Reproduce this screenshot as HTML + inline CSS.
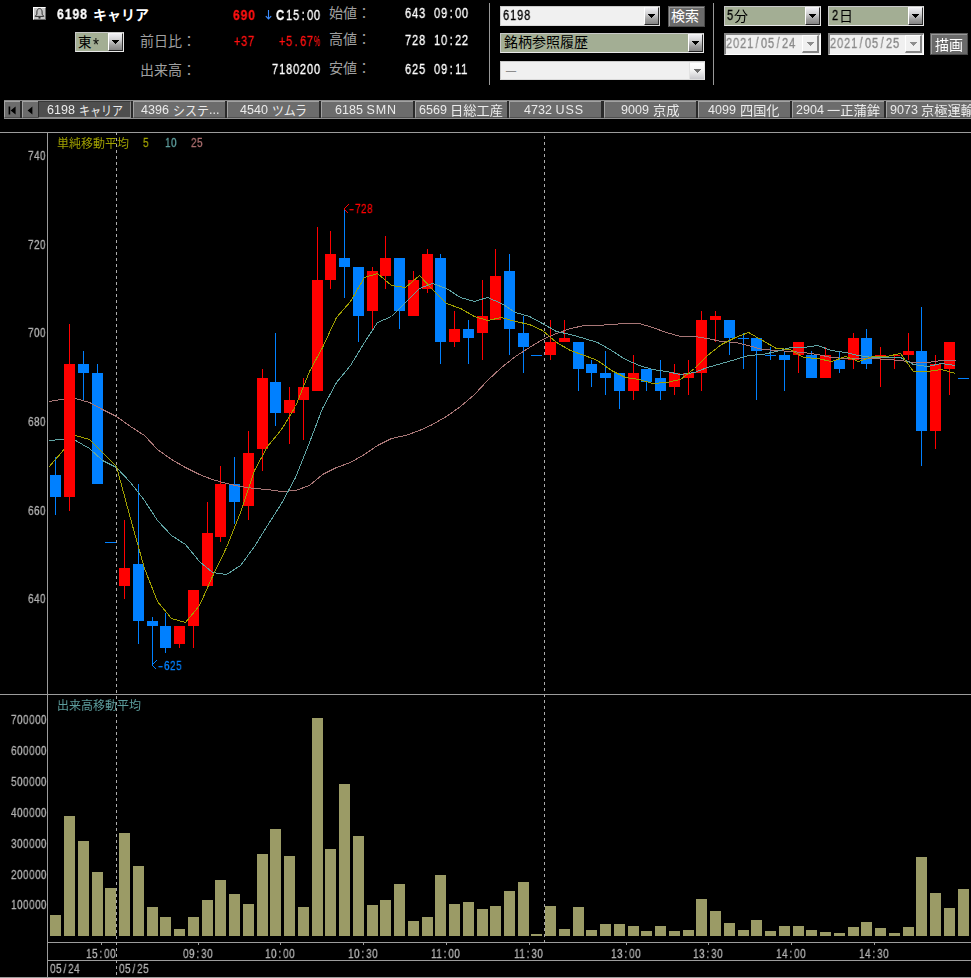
<!DOCTYPE html>
<html lang="ja"><head><meta charset="utf-8"><title>6198 キャリア 5分足チャート</title>
<style>
html,body{margin:0;padding:0;background:#000;}
html{width:971px;height:978px;overflow:hidden;}
body{width:971px;height:978px;position:relative;overflow:hidden;font-family:"Liberation Sans",sans-serif;}
.jp{position:absolute;overflow:visible;}
.jp text{font-family:"Liberation Sans","Noto Sans CJK JP",sans-serif;}
.mono{position:absolute;font-family:"Liberation Sans",sans-serif;line-height:1;white-space:pre;transform-origin:0 0;display:block;}
.mono i{display:inline-block;width:.5562em;text-align:center;font-style:normal;letter-spacing:0;margin-right:var(--ls,0);}
.mono i.pc{text-align:left;}
.mono i.pc b{display:inline-block;font-weight:inherit;transform:scaleX(.6);transform-origin:0 50%;}
.mono i.hy b{display:inline-block;font-weight:inherit;transform:scaleX(1.5);}
.mono,.tl,.sans{will-change:transform;}
.mono{-webkit-text-stroke:.3px currentColor;}
.sans{position:absolute;font-family:"Liberation Sans",sans-serif;line-height:1;white-space:pre;display:block;}
.ddb{position:absolute;box-sizing:border-box;border:1px solid;border-color:#f6f6f6 #2e2e2e #222 #fff;background:linear-gradient(180deg,#eeeef2 0%,#d2d2d4 35%,#a0a0a0 70%,#848484 100%);}
.ddb i{position:absolute;left:6px;top:9px;width:1px;height:1px;background:currentColor;color:#000;box-shadow:-1px -1px,0 -1px,1px -1px,-2px -2px,-1px -2px,0 -2px,1px -2px,2px -2px,-3px -3px,-2px -3px,-1px -3px,0 -3px,1px -3px,2px -3px,3px -3px;}
.ddb.dis{background:linear-gradient(180deg,#fff 0%,#f4f4f4 45%,#c8c8cc 100%);border-color:#ededed #e6e6e6 #dcdcdc #e2e2e2;}
.ddb.dis i{color:#6e6e6e;left:7px;top:9px;}
.ddb.dt{background:#f0f0f0;border-width:1px 2px 2px 1px;border-color:#fff #868686 #868686 #fff;}
.ddb.dt i{color:#8e8e8e;left:7px;top:9px;}
.btn{position:absolute;box-sizing:border-box;background:#6a6a6a;border:1px solid;border-color:#5c5c5c #4a4a4a #4a4a4a #5c5c5c;box-shadow:inset 1px 1px 0 #989898;}
.tab{position:absolute;top:101px;height:17px;box-sizing:border-box;background:#6c6c6c;border-style:solid;border-width:1px 0 1px 1px;border-color:#a2a2a2 #2a2a2a #505050 #a2a2a2;overflow:hidden;}
.tab.sel{background:#4e4e4e;border-width:1px;border-color:#383838 #8c8c8c #8c8c8c #2c2c2c;}
.tl{position:absolute;top:2px;font:12.5px/13px "Liberation Sans",sans-serif;letter-spacing:.05px;color:#ececec;white-space:pre;}
</style></head><body>

<div class="" style="position:absolute;left:33px;top:7px;width:13px;height:13px;box-sizing:border-box;background:#c6c6c6;border:1px solid;border-color:#fff #6a6a6a #6a6a6a #fff;"><svg width="11" height="11" viewBox="0 0 11 11" style="position:absolute;left:0;top:0"><path d="M5.5 0.6C3.7 0.6 2.9 2.2 2.9 4V6.2L1.2 8.4H9.8L8.1 6.2V4C8.1 2.2 7.3 0.6 5.5 0.6Z" fill="none" stroke="#303030" stroke-width="1"/><path d="M4.5 9h2v1.6h-2z" fill="#303030"/></svg></div>
<span class="mono " style="left:56.76px;top:6.93px;font-size:14.18px;letter-spacing:1.08px;--ls:1.08px;transform:scaleX(0.8589);color:#fff;font-weight:bold;">6198</span>
<svg class="jp" style="left:92.5px;top:5px" width="58" height="20" viewBox="0 -15 58 20"><text x="0" y="0" font-size="14" font-weight="bold" fill="#fff" textLength="56" lengthAdjust="spacingAndGlyphs">キャリア</text></svg>
<div class="" style="position:absolute;left:75px;top:32px;width:49px;height:20px;box-sizing:border-box;background:#a3ae94;border:1px solid;border-color:#c8c8c8 #e8e8e8 #e8e8e8 #c8c8c8;"></div>
<div class="ddb" style="left:108px;top:33px;width:15px;height:18px"><i></i></div>
<svg class="jp" style="left:77.5px;top:31.5px" width="16" height="19.5" viewBox="0 -14.5 16 19.5"><text x="0" y="0" font-size="13.5" fill="#000">東</text></svg>
<span class="sans" style="left:92.7px;top:34.9px;font-size:19px;color:#000;transform:scaleX(.8);transform-origin:0 0">*</span>
<svg class="jp" style="left:139.5px;top:31px" width="58" height="20" viewBox="0 -15 58 20"><text x="0" y="0" font-size="14" fill="#a0a0a0">前日比：</text></svg>
<svg class="jp" style="left:139.5px;top:59.5px" width="58" height="20" viewBox="0 -15 58 20"><text x="0" y="0" font-size="14" fill="#a0a0a0">出来高：</text></svg>
<span class="mono " style="left:232.76px;top:7.93px;font-size:14.18px;letter-spacing:1.08px;--ls:1.08px;transform:scaleX(0.8477);color:#ff1010;font-weight:bold;">690</span>
<svg class="jp" style="left:264px;top:9px" width="9" height="12" viewBox="0 0 9 12"><path d="M4.5 1V10M1.8 7.2L4.5 10L7.2 7.2" fill="none" stroke="#3c8cff" stroke-width="1.1"/></svg>
<span class="mono " style="left:276.43px;top:7.93px;font-size:14.18px;letter-spacing:1.08px;--ls:1.08px;transform:scaleX(0.8031);color:#fff;font-weight:bold;"><i>C</i></span>
<span class="mono " style="left:286.42px;top:7.93px;font-size:14.18px;letter-spacing:1.08px;--ls:1.08px;transform:scaleX(0.7808);color:#fff;">15<i>:</i>00</span>
<span class="mono " style="left:234.42px;top:33.93px;font-size:14.18px;letter-spacing:1.08px;--ls:1.08px;transform:scaleX(0.7808);color:#ff1010;"><i>+</i>37</span>
<span class="mono " style="left:279.42px;top:33.93px;font-size:14.18px;letter-spacing:1.08px;--ls:1.08px;transform:scaleX(0.7808);color:#ff1010;"><i>+</i>5<i>.</i>67<i class="pc"><b>%</b></i></span>
<span class="mono " style="left:272.42px;top:61.93px;font-size:14.18px;letter-spacing:1.08px;--ls:1.08px;transform:scaleX(0.7808);color:#fff;">7180200</span>
<svg class="jp" style="left:328.5px;top:3.2px" width="44" height="20" viewBox="0 -15 44 20"><text x="0" y="0" font-size="14" fill="#a0a0a0">始値：</text></svg>
<span class="mono " style="left:405.42px;top:6.13px;font-size:14.18px;letter-spacing:1.08px;--ls:1.08px;transform:scaleX(0.7808);color:#fff;">643</span>
<span class="mono " style="left:434.42px;top:6.13px;font-size:14.18px;letter-spacing:1.08px;--ls:1.08px;transform:scaleX(0.7808);color:#fff;">09<i>:</i>00</span>
<svg class="jp" style="left:328.5px;top:29.2px" width="44" height="20" viewBox="0 -15 44 20"><text x="0" y="0" font-size="14" fill="#a0a0a0">高値：</text></svg>
<span class="mono " style="left:405.42px;top:32.53px;font-size:14.18px;letter-spacing:1.08px;--ls:1.08px;transform:scaleX(0.7808);color:#fff;">728</span>
<span class="mono " style="left:434.42px;top:32.53px;font-size:14.18px;letter-spacing:1.08px;--ls:1.08px;transform:scaleX(0.7808);color:#fff;">10<i>:</i>22</span>
<svg class="jp" style="left:328.5px;top:57.9px" width="44" height="20" viewBox="0 -15 44 20"><text x="0" y="0" font-size="14" fill="#a0a0a0">安値：</text></svg>
<span class="mono " style="left:405.42px;top:61.53px;font-size:14.18px;letter-spacing:1.08px;--ls:1.08px;transform:scaleX(0.7808);color:#fff;">625</span>
<span class="mono " style="left:434.42px;top:61.53px;font-size:14.18px;letter-spacing:1.08px;--ls:1.08px;transform:scaleX(0.7808);color:#fff;">09<i>:</i>11</span>
<div class="" style="position:absolute;left:489px;top:3px;width:1px;height:82px;background:#989898"></div>
<div class="" style="position:absolute;left:713px;top:3px;width:1px;height:82px;background:#989898"></div>
<div class="" style="position:absolute;left:500px;top:6px;width:160px;height:20px;box-sizing:border-box;background:#f0f0f0;border:1px solid;border-color:#cacaca #dadada #dadada #cacaca;"></div>
<div class="ddb" style="left:644px;top:7px;width:15px;height:18px"><i></i></div>
<span class="mono " style="left:503.42px;top:7.93px;font-size:14.18px;letter-spacing:1.08px;--ls:1.08px;transform:scaleX(0.7808);color:#000;">6198</span>
<div class="btn" style="position:absolute;left:668px;top:6px;width:37px;height:21px;"></div>
<svg class="jp" style="left:671px;top:6px" width="30" height="20" viewBox="0 -15 30 20"><text x="0" y="0" font-size="14" fill="#fff">検索</text></svg>
<div class="" style="position:absolute;left:500px;top:33px;width:204px;height:20px;box-sizing:border-box;background:#a3ae94;border:1px solid;border-color:#c8c8c8 #e8e8e8 #e8e8e8 #c8c8c8;"></div>
<div class="ddb" style="left:688px;top:34px;width:15px;height:18px"><i></i></div>
<svg class="jp" style="left:503.5px;top:32px" width="86" height="20" viewBox="0 -15 86 20"><text x="0" y="0" font-size="14" fill="#000">銘柄参照履歴</text></svg>
<div class="" style="position:absolute;left:500px;top:61px;width:205px;height:19px;box-sizing:border-box;background:#f0f0f0;border:1px solid;border-color:#cacaca #dadada #dadada #cacaca;"></div>
<div class="ddb dis" style="left:689px;top:62px;width:16px;height:18px"><i></i></div>
<svg class="jp" style="left:504px;top:61px" width="16" height="20" viewBox="0 -15 16 20"><text x="0" y="0" font-size="14" fill="#8c8c8c">－</text></svg>
<div class="" style="position:absolute;left:724px;top:6px;width:97px;height:20px;box-sizing:border-box;background:#a3ae94;border:1px solid;border-color:#c8c8c8 #e8e8e8 #e8e8e8 #c8c8c8;"></div>
<div class="ddb" style="left:805px;top:7px;width:15px;height:18px"><i></i></div>
<span class="mono " style="left:727.42px;top:7.93px;font-size:14.18px;letter-spacing:1.08px;--ls:1.08px;transform:scaleX(0.7808);color:#000;">5</span>
<svg class="jp" style="left:734px;top:5.5px" width="16" height="20" viewBox="0 -15 16 20"><text x="0" y="0" font-size="14" fill="#000">分</text></svg>
<div class="" style="position:absolute;left:828px;top:6px;width:96px;height:20px;box-sizing:border-box;background:#a3ae94;border:1px solid;border-color:#c8c8c8 #e8e8e8 #e8e8e8 #c8c8c8;"></div>
<div class="ddb" style="left:908px;top:7px;width:15px;height:18px"><i></i></div>
<span class="mono " style="left:831.92px;top:7.93px;font-size:14.18px;letter-spacing:1.08px;--ls:1.08px;transform:scaleX(0.7808);color:#000;">2</span>
<svg class="jp" style="left:838.5px;top:5.5px" width="16" height="20" viewBox="0 -15 16 20"><text x="0" y="0" font-size="14" fill="#000">日</text></svg>
<div class="" style="position:absolute;left:724px;top:33px;width:97px;height:22px;box-sizing:border-box;background:#f0f0f0;border-style:solid;border-width:2px 1px 1px 2px;border-color:#848484 #fff #fff #848484;"></div>
<div class="ddb dt" style="left:802px;top:35px;width:17px;height:18px"><i></i></div>
<span class="mono " style="left:726.42px;top:35.93px;font-size:14.18px;letter-spacing:1.08px;--ls:1.08px;transform:scaleX(0.7808);color:#8a8a8a;">2021<i>/</i>05<i>/</i>24</span>
<div class="" style="position:absolute;left:828px;top:33px;width:96px;height:22px;box-sizing:border-box;background:#f0f0f0;border-style:solid;border-width:2px 1px 1px 2px;border-color:#848484 #fff #fff #848484;"></div>
<div class="ddb dt" style="left:905px;top:35px;width:17px;height:18px"><i></i></div>
<span class="mono " style="left:830.42px;top:35.93px;font-size:14.18px;letter-spacing:1.08px;--ls:1.08px;transform:scaleX(0.7808);color:#8a8a8a;">2021<i>/</i>05<i>/</i>25</span>
<div class="btn" style="position:absolute;left:930px;top:33px;width:38px;height:22px;"></div>
<svg class="jp" style="left:935px;top:34.5px" width="30" height="20" viewBox="0 -15 30 20"><text x="0" y="0" font-size="14" fill="#fff">描画</text></svg>
<div class="" style="position:absolute;left:4px;top:100px;width:967px;height:19px;background:#2a2a2a;border-top:1px solid #8a8a8a;border-bottom:1px solid #8e8e8e;box-sizing:border-box;"></div>
<div class="tab" style="left:4px;width:16px"><svg width="14" height="17" viewBox="0 0 14 17" style="position:absolute;left:0;top:0"><path d="M3.6 4.5h1.6v8H3.6zM10.6 4.5v8L5.6 8.5z" fill="#000"/></svg></div>
<div class="tab" style="left:22px;width:16px"><svg width="14" height="17" viewBox="0 0 14 17" style="position:absolute;left:0;top:0"><path d="M9.4 4.5v8L4.6 8.5z" fill="#000"/></svg></div>
<div class="tab sel" style="left:38px;width:93px">
<span class="tl" style="left:8.0px">6198 </span>
<svg class="jp" style="left:39.7px;top:0px" width="45" height="17" viewBox="0 -13 45 17"><text x="0" y="0" font-size="13" fill="#ececec" textLength="44" lengthAdjust="spacingAndGlyphs">キャリア</text></svg>
</div>
<div class="tab" style="left:133px;width:92px">
<span class="tl" style="left:6.8px">4396 </span>
<svg class="jp" style="left:38.5px;top:0px" width="37" height="17" viewBox="0 -13 37 17"><text x="0" y="0" font-size="13" fill="#ececec" textLength="36" lengthAdjust="spacingAndGlyphs">システ</text></svg>
<span class="tl" style="left:74.7px">...</span>
</div>
<div class="tab" style="left:227px;width:92px">
<span class="tl" style="left:11.9px">4540 </span>
<svg class="jp" style="left:43.6px;top:0px" width="36" height="17" viewBox="0 -13 36 17"><text x="0" y="0" font-size="13" fill="#ececec" textLength="35" lengthAdjust="spacingAndGlyphs">ツムラ</text></svg>
</div>
<div class="tab" style="left:321px;width:92px">
<span class="tl" style="left:12.6px">6185 <span style="letter-spacing:.9px">SMN</span></span>
</div>
<div class="tab" style="left:415px;width:92px">
<span class="tl" style="left:2.5px">6569 </span>
<svg class="jp" style="left:34.2px;top:0px" width="55" height="17" viewBox="0 -13 55 17"><text x="0" y="0" font-size="13" fill="#ececec" textLength="53" lengthAdjust="spacingAndGlyphs">日総工産</text></svg>
</div>
<div class="tab" style="left:509px;width:92px">
<span class="tl" style="left:13.9px">4732 <span style="letter-spacing:.9px">USS</span></span>
</div>
<div class="tab" style="left:604px;width:92px">
<span class="tl" style="left:15.9px">9009 </span>
<svg class="jp" style="left:47.6px;top:0px" width="28" height="17" viewBox="0 -13 28 17"><text x="0" y="0" font-size="13" fill="#ececec" textLength="26.5" lengthAdjust="spacingAndGlyphs">京成</text></svg>
</div>
<div class="tab" style="left:698px;width:92px">
<span class="tl" style="left:9.2px">4099 </span>
<svg class="jp" style="left:40.9px;top:0px" width="41" height="17" viewBox="0 -13 41 17"><text x="0" y="0" font-size="13" fill="#ececec" textLength="39.5" lengthAdjust="spacingAndGlyphs">四国化</text></svg>
</div>
<div class="tab" style="left:792px;width:92px">
<span class="tl" style="left:2.5px">2904 </span>
<svg class="jp" style="left:34.2px;top:0px" width="55" height="17" viewBox="0 -13 55 17"><text x="0" y="0" font-size="13" fill="#ececec" textLength="53" lengthAdjust="spacingAndGlyphs">一正蒲鉾</text></svg>
</div>
<div class="tab" style="left:886px;width:85px">
<span class="tl" style="left:2.5px">9073 </span>
<svg class="jp" style="left:34.2px;top:0px" width="55" height="17" viewBox="0 -13 55 17"><text x="0" y="0" font-size="13" fill="#ececec" textLength="53" lengthAdjust="spacingAndGlyphs">京極運輸</text></svg>
</div>
<svg style="position:absolute;left:0;top:0" width="971" height="978" viewBox="0 0 971 978" shape-rendering="crispEdges">
<g fill="#9c9c9c">
<rect x="0" y="132" width="971" height="1"/>
<rect x="47" y="133" width="1" height="845"/>
<rect x="0" y="694" width="971" height="1"/>
<rect x="48" y="942" width="923" height="1"/>
<rect x="48" y="960" width="923" height="1"/>
<rect x="0" y="977" width="971" height="1"/>
<rect x="101" y="943" width="1" height="2"/>
<rect x="198" y="943" width="1" height="2"/>
<rect x="280" y="943" width="1" height="2"/>
<rect x="363" y="943" width="1" height="2"/>
<rect x="446" y="943" width="1" height="2"/>
<rect x="529" y="943" width="1" height="2"/>
<rect x="626" y="943" width="1" height="2"/>
<rect x="708" y="943" width="1" height="2"/>
<rect x="791" y="943" width="1" height="2"/>
<rect x="874" y="943" width="1" height="2"/>
</g>
<g stroke="#acacac" stroke-width="1" stroke-dasharray="3 3">
<line x1="116.5" y1="132" x2="116.5" y2="978"/><line x1="544.5" y1="132" x2="544.5" y2="943" stroke-dashoffset="2"/>
</g>
<g fill="#9b9b66">
<rect x="50" y="915" width="11" height="21"/>
<rect x="64" y="816" width="11" height="120"/>
<rect x="78" y="841" width="11" height="95"/>
<rect x="92" y="872" width="11" height="64"/>
<rect x="105" y="888" width="11" height="48"/>
<rect x="119" y="833" width="11" height="103"/>
<rect x="133" y="866" width="11" height="70"/>
<rect x="147" y="907" width="11" height="29"/>
<rect x="160" y="917" width="11" height="19"/>
<rect x="174" y="929" width="11" height="7"/>
<rect x="188" y="917" width="11" height="19"/>
<rect x="202" y="900" width="11" height="36"/>
<rect x="215" y="880" width="11" height="56"/>
<rect x="229" y="894" width="11" height="42"/>
<rect x="243" y="904" width="11" height="32"/>
<rect x="257" y="854" width="11" height="82"/>
<rect x="270" y="829" width="11" height="107"/>
<rect x="284" y="856" width="11" height="80"/>
<rect x="298" y="907" width="11" height="29"/>
<rect x="312" y="718" width="11" height="218"/>
<rect x="325" y="849" width="11" height="87"/>
<rect x="339" y="784" width="11" height="152"/>
<rect x="353" y="836" width="11" height="100"/>
<rect x="367" y="905" width="11" height="31"/>
<rect x="380" y="900" width="11" height="36"/>
<rect x="394" y="884" width="11" height="52"/>
<rect x="408" y="921" width="11" height="15"/>
<rect x="422" y="917" width="11" height="19"/>
<rect x="435" y="875" width="11" height="61"/>
<rect x="449" y="904" width="11" height="32"/>
<rect x="463" y="902" width="11" height="34"/>
<rect x="477" y="909" width="11" height="27"/>
<rect x="490" y="906" width="11" height="30"/>
<rect x="504" y="891" width="11" height="45"/>
<rect x="518" y="882" width="11" height="54"/>
<rect x="531" y="934" width="11" height="2"/>
<rect x="545" y="906" width="11" height="30"/>
<rect x="559" y="929" width="11" height="7"/>
<rect x="573" y="907" width="11" height="29"/>
<rect x="586" y="930" width="11" height="6"/>
<rect x="600" y="924" width="11" height="12"/>
<rect x="614" y="924" width="11" height="12"/>
<rect x="628" y="926" width="11" height="10"/>
<rect x="641" y="931" width="11" height="5"/>
<rect x="655" y="926" width="11" height="10"/>
<rect x="669" y="931" width="11" height="5"/>
<rect x="683" y="930" width="11" height="6"/>
<rect x="696" y="899" width="11" height="37"/>
<rect x="710" y="911" width="11" height="25"/>
<rect x="724" y="923" width="11" height="13"/>
<rect x="738" y="930" width="11" height="6"/>
<rect x="751" y="920" width="11" height="16"/>
<rect x="765" y="931" width="11" height="5"/>
<rect x="779" y="926" width="11" height="10"/>
<rect x="793" y="926" width="11" height="10"/>
<rect x="806" y="930" width="11" height="6"/>
<rect x="820" y="932" width="11" height="4"/>
<rect x="834" y="933" width="11" height="3"/>
<rect x="848" y="927" width="11" height="9"/>
<rect x="861" y="922" width="11" height="14"/>
<rect x="875" y="928" width="11" height="8"/>
<rect x="889" y="933" width="11" height="3"/>
<rect x="903" y="927" width="11" height="9"/>
<rect x="916" y="857" width="11" height="79"/>
<rect x="930" y="893" width="11" height="43"/>
<rect x="944" y="908" width="11" height="28"/>
<rect x="958" y="889" width="11" height="47"/>
</g>
<rect x="55" y="457" width="1" height="58" fill="#0080ff"/><rect x="50" y="475" width="11" height="22" fill="#0080ff"/>
<rect x="83" y="351" width="1" height="49" fill="#0080ff"/><rect x="78" y="364" width="11" height="9" fill="#0080ff"/>
<rect x="97" y="364" width="1" height="120" fill="#0080ff"/><rect x="92" y="373" width="11" height="111" fill="#0080ff"/>
<rect x="105" y="542" width="11" height="1" fill="#0080ff"/>
<rect x="124" y="520" width="1" height="79" fill="#ff0000"/><rect x="119" y="568" width="11" height="18" fill="#ff0000"/>
<rect x="138" y="484" width="1" height="160" fill="#0080ff"/><rect x="133" y="564" width="11" height="57" fill="#0080ff"/>
<rect x="152" y="617" width="1" height="49" fill="#0080ff"/><rect x="147" y="621" width="11" height="5" fill="#0080ff"/>
<rect x="165" y="613" width="1" height="40" fill="#0080ff"/><rect x="160" y="626" width="11" height="22" fill="#0080ff"/>
<rect x="179" y="626" width="1" height="22" fill="#ff0000"/><rect x="174" y="626" width="11" height="18" fill="#ff0000"/>
<rect x="193" y="590" width="1" height="58" fill="#ff0000"/><rect x="188" y="590" width="11" height="36" fill="#ff0000"/>
<rect x="207" y="502" width="1" height="84" fill="#ff0000"/><rect x="202" y="533" width="11" height="53" fill="#ff0000"/>
<rect x="220" y="466" width="1" height="76" fill="#ff0000"/><rect x="215" y="484" width="11" height="53" fill="#ff0000"/>
<rect x="234" y="457" width="1" height="67" fill="#0080ff"/><rect x="229" y="484" width="11" height="18" fill="#0080ff"/>
<rect x="248" y="431" width="1" height="89" fill="#ff0000"/><rect x="243" y="453" width="11" height="53" fill="#ff0000"/>
<rect x="262" y="369" width="1" height="102" fill="#ff0000"/><rect x="257" y="378" width="11" height="71" fill="#ff0000"/>
<rect x="275" y="333" width="1" height="93" fill="#0080ff"/><rect x="270" y="382" width="11" height="31" fill="#0080ff"/>
<rect x="289" y="387" width="1" height="57" fill="#ff0000"/><rect x="284" y="400" width="11" height="13" fill="#ff0000"/>
<rect x="303" y="378" width="1" height="62" fill="#ff0000"/><rect x="298" y="387" width="11" height="13" fill="#ff0000"/>
<rect x="317" y="227" width="1" height="164" fill="#ff0000"/><rect x="312" y="280" width="11" height="111" fill="#ff0000"/>
<rect x="330" y="231" width="1" height="58" fill="#ff0000"/><rect x="325" y="254" width="11" height="26" fill="#ff0000"/>
<rect x="344" y="209" width="1" height="89" fill="#0080ff"/><rect x="339" y="258" width="11" height="9" fill="#0080ff"/>
<rect x="358" y="267" width="1" height="75" fill="#0080ff"/><rect x="353" y="267" width="11" height="49" fill="#0080ff"/>
<rect x="372" y="267" width="1" height="62" fill="#ff0000"/><rect x="367" y="271" width="11" height="40" fill="#ff0000"/>
<rect x="385" y="236" width="1" height="53" fill="#ff0000"/><rect x="380" y="258" width="11" height="18" fill="#ff0000"/>
<rect x="399" y="258" width="1" height="71" fill="#0080ff"/><rect x="394" y="258" width="11" height="53" fill="#0080ff"/>
<rect x="413" y="271" width="1" height="45" fill="#ff0000"/><rect x="408" y="280" width="11" height="36" fill="#ff0000"/>
<rect x="427" y="249" width="1" height="44" fill="#ff0000"/><rect x="422" y="254" width="11" height="35" fill="#ff0000"/>
<rect x="440" y="254" width="1" height="110" fill="#0080ff"/><rect x="435" y="258" width="11" height="84" fill="#0080ff"/>
<rect x="454" y="311" width="1" height="36" fill="#ff0000"/><rect x="449" y="329" width="11" height="13" fill="#ff0000"/>
<rect x="468" y="320" width="1" height="44" fill="#0080ff"/><rect x="463" y="329" width="11" height="9" fill="#0080ff"/>
<rect x="482" y="280" width="1" height="80" fill="#ff0000"/><rect x="477" y="316" width="11" height="17" fill="#ff0000"/>
<rect x="495" y="249" width="1" height="71" fill="#ff0000"/><rect x="490" y="276" width="11" height="44" fill="#ff0000"/>
<rect x="509" y="254" width="1" height="101" fill="#0080ff"/><rect x="504" y="271" width="11" height="58" fill="#0080ff"/>
<rect x="523" y="316" width="1" height="57" fill="#0080ff"/><rect x="518" y="333" width="11" height="14" fill="#0080ff"/>
<rect x="531" y="355" width="11" height="1" fill="#0080ff"/>
<rect x="550" y="320" width="1" height="40" fill="#ff0000"/><rect x="545" y="342" width="11" height="13" fill="#ff0000"/>
<rect x="564" y="320" width="1" height="22" fill="#ff0000"/><rect x="559" y="338" width="11" height="4" fill="#ff0000"/>
<rect x="578" y="342" width="1" height="49" fill="#0080ff"/><rect x="573" y="342" width="11" height="27" fill="#0080ff"/>
<rect x="591" y="360" width="1" height="27" fill="#0080ff"/><rect x="586" y="364" width="11" height="9" fill="#0080ff"/>
<rect x="605" y="351" width="1" height="44" fill="#0080ff"/><rect x="600" y="373" width="11" height="5" fill="#0080ff"/>
<rect x="619" y="373" width="1" height="36" fill="#0080ff"/><rect x="614" y="373" width="11" height="18" fill="#0080ff"/>
<rect x="633" y="355" width="1" height="45" fill="#ff0000"/><rect x="628" y="373" width="11" height="18" fill="#ff0000"/>
<rect x="646" y="369" width="1" height="22" fill="#0080ff"/><rect x="641" y="369" width="11" height="13" fill="#0080ff"/>
<rect x="660" y="360" width="1" height="40" fill="#0080ff"/><rect x="655" y="378" width="11" height="13" fill="#0080ff"/>
<rect x="674" y="364" width="1" height="31" fill="#ff0000"/><rect x="669" y="373" width="11" height="14" fill="#ff0000"/>
<rect x="688" y="360" width="1" height="35" fill="#ff0000"/><rect x="683" y="373" width="11" height="5" fill="#ff0000"/>
<rect x="701" y="311" width="1" height="80" fill="#ff0000"/><rect x="696" y="320" width="11" height="53" fill="#ff0000"/>
<rect x="715" y="311" width="1" height="31" fill="#ff0000"/><rect x="710" y="316" width="11" height="4" fill="#ff0000"/>
<rect x="729" y="320" width="1" height="35" fill="#0080ff"/><rect x="724" y="320" width="11" height="18" fill="#0080ff"/>
<rect x="743" y="333" width="1" height="36" fill="#0080ff"/><rect x="738" y="338" width="11" height="1" fill="#0080ff"/>
<rect x="756" y="338" width="1" height="62" fill="#0080ff"/><rect x="751" y="338" width="11" height="13" fill="#0080ff"/>
<rect x="770" y="347" width="1" height="13" fill="#0080ff"/><rect x="765" y="355" width="11" height="1" fill="#0080ff"/>
<rect x="784" y="351" width="1" height="40" fill="#0080ff"/><rect x="779" y="355" width="11" height="5" fill="#0080ff"/>
<rect x="798" y="342" width="1" height="31" fill="#ff0000"/><rect x="793" y="342" width="11" height="13" fill="#ff0000"/>
<rect x="811" y="351" width="1" height="27" fill="#0080ff"/><rect x="806" y="355" width="11" height="23" fill="#0080ff"/>
<rect x="825" y="347" width="1" height="31" fill="#ff0000"/><rect x="820" y="355" width="11" height="23" fill="#ff0000"/>
<rect x="839" y="351" width="1" height="22" fill="#0080ff"/><rect x="834" y="360" width="11" height="9" fill="#0080ff"/>
<rect x="853" y="333" width="1" height="36" fill="#ff0000"/><rect x="848" y="338" width="11" height="22" fill="#ff0000"/>
<rect x="866" y="329" width="1" height="40" fill="#0080ff"/><rect x="861" y="338" width="11" height="26" fill="#0080ff"/>
<rect x="880" y="347" width="1" height="40" fill="#ff0000"/><rect x="875" y="355" width="11" height="1" fill="#ff0000"/>
<rect x="894" y="355" width="1" height="14" fill="#ff0000"/><rect x="889" y="355" width="11" height="1" fill="#ff0000"/>
<rect x="908" y="333" width="1" height="27" fill="#ff0000"/><rect x="903" y="351" width="11" height="4" fill="#ff0000"/>
<rect x="921" y="307" width="1" height="159" fill="#0080ff"/><rect x="916" y="351" width="11" height="80" fill="#0080ff"/>
<rect x="935" y="355" width="1" height="94" fill="#ff0000"/><rect x="930" y="364" width="11" height="67" fill="#ff0000"/>
<rect x="949" y="342" width="1" height="53" fill="#ff0000"/><rect x="944" y="342" width="11" height="27" fill="#ff0000"/>
<rect x="958" y="378" width="11" height="1" fill="#0080ff"/>
<clipPath id="plot"><rect x="49" y="133" width="922" height="561"/></clipPath>
<polyline clip-path="url(#plot)" fill="none" stroke="#a87676" stroke-width="1" points="48.5,401.5 61.5,399.5 75.5,398.5 89.5,402.5 102.5,409.5 116.5,416.5 130.5,426.5 144.5,435.5 157.5,449.5 171.5,459.5 185.5,467.5 199.5,474.5 212.5,479.5 226.5,483.5 240.5,486.5 254.5,488.5 267.5,489.5 281.5,491.5 295.5,490.5 309.5,485.5 322.5,474.5 336.5,467.5 350.5,462.5 364.5,454.5 377.5,445.5 391.5,438.5 405.5,435.5 419.5,430.5 432.5,424.5 446.5,416.5 460.5,406.5 474.5,394.5 487.5,380.5 501.5,367.5 515.5,356.5 529.5,347.5 542.5,339.5 556.5,333.5 570.5,328.5 584.5,325.5 597.5,325.5 611.5,324.5 625.5,323.5 639.5,323.5 652.5,327.5 666.5,332.5 680.5,336.5 694.5,336.5 707.5,338.5 721.5,341.5 735.5,342.5 748.5,345.5 762.5,349.5 776.5,350.5 790.5,351.5 803.5,352.5 817.5,354.5 831.5,357.5 845.5,358.5 858.5,358.5 872.5,358.5 886.5,359.5 900.5,360.5 913.5,362.5 927.5,362.5 941.5,360.5 955.5,360.5"/>
<polyline clip-path="url(#plot)" fill="none" stroke="#60a4a4" stroke-width="1" points="48.5,440.5 61.5,439.5 75.5,440.5 89.5,448.5 102.5,460.5 116.5,467.5 130.5,482.5 144.5,500.5 157.5,520.5 171.5,535.5 185.5,544.5 199.5,561.5 212.5,572.5 226.5,574.5 240.5,565.5 254.5,546.5 267.5,525.5 281.5,503.5 295.5,477.5 309.5,442.5 322.5,408.5 336.5,382.5 350.5,365.5 364.5,342.5 377.5,322.5 391.5,316.5 405.5,302.5 419.5,288.5 432.5,283.5 446.5,288.5 460.5,297.5 474.5,301.5 487.5,297.5 501.5,303.5 515.5,312.5 529.5,316.5 542.5,323.5 556.5,331.5 570.5,334.5 584.5,338.5 597.5,342.5 611.5,350.5 625.5,359.5 639.5,365.5 652.5,369.5 666.5,371.5 680.5,374.5 694.5,372.5 707.5,367.5 721.5,363.5 735.5,359.5 748.5,355.5 762.5,354.5 776.5,351.5 790.5,347.5 803.5,347.5 817.5,345.5 831.5,350.5 845.5,352.5 858.5,355.5 872.5,357.5 886.5,357.5 900.5,357.5 913.5,364.5 927.5,366.5 941.5,363.5 955.5,365.5"/>
<polyline clip-path="url(#plot)" fill="none" stroke="#a0a000" stroke-width="1" points="48.5,467.5 61.5,452.5 75.5,435.5 89.5,439.5 102.5,452.5 116.5,466.5 130.5,518.5 144.5,568.5 157.5,601.5 171.5,618.5 185.5,622.5 199.5,605.5 212.5,576.5 226.5,547.5 240.5,512.5 254.5,470.5 267.5,446.5 281.5,429.5 295.5,406.5 309.5,371.5 322.5,347.5 336.5,317.5 350.5,301.5 364.5,277.5 377.5,273.5 391.5,285.5 405.5,287.5 419.5,275.5 432.5,289.5 446.5,303.5 460.5,308.5 474.5,316.5 487.5,320.5 501.5,317.5 515.5,321.5 529.5,324.5 542.5,330.5 556.5,342.5 570.5,350.5 584.5,355.5 597.5,360.5 611.5,370.5 625.5,377.5 639.5,379.5 652.5,383.5 666.5,382.5 680.5,379.5 694.5,368.5 707.5,355.5 721.5,344.5 735.5,337.5 748.5,332.5 762.5,340.5 776.5,348.5 790.5,349.5 803.5,357.5 817.5,358.5 831.5,361.5 845.5,356.5 858.5,361.5 872.5,356.5 886.5,356.5 900.5,353.5 913.5,371.5 927.5,371.5 941.5,369.5 955.5,373.5"/>
<rect x="69" y="324" width="1" height="187" fill="#ff0000"/><rect x="64" y="364" width="11" height="133" fill="#ff0000"/>
</svg>
<span class="mono " style="left:28.24px;top:593.14px;font-size:12.77px;letter-spacing:0.62px;--ls:0.62px;transform:scaleX(0.7774);color:#b0b0b0;">640</span>
<span class="mono " style="left:28.24px;top:505.14px;font-size:12.77px;letter-spacing:0.62px;--ls:0.62px;transform:scaleX(0.7774);color:#b0b0b0;">660</span>
<span class="mono " style="left:28.24px;top:416.14px;font-size:12.77px;letter-spacing:0.62px;--ls:0.62px;transform:scaleX(0.7774);color:#b0b0b0;">680</span>
<span class="mono " style="left:28.24px;top:327.14px;font-size:12.77px;letter-spacing:0.62px;--ls:0.62px;transform:scaleX(0.7774);color:#b0b0b0;">700</span>
<span class="mono " style="left:28.24px;top:239.14px;font-size:12.77px;letter-spacing:0.62px;--ls:0.62px;transform:scaleX(0.7774);color:#b0b0b0;">720</span>
<span class="mono " style="left:28.24px;top:150.14px;font-size:12.77px;letter-spacing:0.62px;--ls:0.62px;transform:scaleX(0.7774);color:#b0b0b0;">740</span>
<span class="mono " style="left:10.74px;top:899.14px;font-size:12.77px;letter-spacing:0.62px;--ls:0.62px;transform:scaleX(0.7774);color:#b0b0b0;">100000</span>
<span class="mono " style="left:10.74px;top:869.14px;font-size:12.77px;letter-spacing:0.62px;--ls:0.62px;transform:scaleX(0.7774);color:#b0b0b0;">200000</span>
<span class="mono " style="left:10.74px;top:838.14px;font-size:12.77px;letter-spacing:0.62px;--ls:0.62px;transform:scaleX(0.7774);color:#b0b0b0;">300000</span>
<span class="mono " style="left:10.74px;top:807.14px;font-size:12.77px;letter-spacing:0.62px;--ls:0.62px;transform:scaleX(0.7774);color:#b0b0b0;">400000</span>
<span class="mono " style="left:10.74px;top:776.14px;font-size:12.77px;letter-spacing:0.62px;--ls:0.62px;transform:scaleX(0.7774);color:#b0b0b0;">500000</span>
<span class="mono " style="left:10.74px;top:745.14px;font-size:12.77px;letter-spacing:0.62px;--ls:0.62px;transform:scaleX(0.7774);color:#b0b0b0;">600000</span>
<span class="mono " style="left:10.74px;top:714.14px;font-size:12.77px;letter-spacing:0.62px;--ls:0.62px;transform:scaleX(0.7774);color:#b0b0b0;">700000</span>
<span class="mono " style="left:86.24px;top:948.14px;font-size:12.77px;letter-spacing:0.62px;--ls:0.62px;transform:scaleX(0.7774);color:#b0b0b0;">15<i>:</i>00</span>
<span class="mono " style="left:183.24px;top:948.14px;font-size:12.77px;letter-spacing:0.62px;--ls:0.62px;transform:scaleX(0.7774);color:#b0b0b0;">09<i>:</i>30</span>
<span class="mono " style="left:265.24px;top:948.14px;font-size:12.77px;letter-spacing:0.62px;--ls:0.62px;transform:scaleX(0.7774);color:#b0b0b0;">10<i>:</i>00</span>
<span class="mono " style="left:348.24px;top:948.14px;font-size:12.77px;letter-spacing:0.62px;--ls:0.62px;transform:scaleX(0.7774);color:#b0b0b0;">10<i>:</i>30</span>
<span class="mono " style="left:431.24px;top:948.14px;font-size:12.77px;letter-spacing:0.62px;--ls:0.62px;transform:scaleX(0.7774);color:#b0b0b0;">11<i>:</i>00</span>
<span class="mono " style="left:514.24px;top:948.14px;font-size:12.77px;letter-spacing:0.62px;--ls:0.62px;transform:scaleX(0.7774);color:#b0b0b0;">11<i>:</i>30</span>
<span class="mono " style="left:611.24px;top:948.14px;font-size:12.77px;letter-spacing:0.62px;--ls:0.62px;transform:scaleX(0.7774);color:#b0b0b0;">13<i>:</i>00</span>
<span class="mono " style="left:693.24px;top:948.14px;font-size:12.77px;letter-spacing:0.62px;--ls:0.62px;transform:scaleX(0.7774);color:#b0b0b0;">13<i>:</i>30</span>
<span class="mono " style="left:776.24px;top:948.14px;font-size:12.77px;letter-spacing:0.62px;--ls:0.62px;transform:scaleX(0.7774);color:#b0b0b0;">14<i>:</i>00</span>
<span class="mono " style="left:859.24px;top:948.14px;font-size:12.77px;letter-spacing:0.62px;--ls:0.62px;transform:scaleX(0.7774);color:#b0b0b0;">14<i>:</i>30</span>
<span class="mono " style="left:49.74px;top:963.14px;font-size:12.77px;letter-spacing:0.62px;--ls:0.62px;transform:scaleX(0.7774);color:#b0b0b0;">05<i>/</i>24</span>
<span class="mono " style="left:118.74px;top:963.14px;font-size:12.77px;letter-spacing:0.62px;--ls:0.62px;transform:scaleX(0.7774);color:#b0b0b0;">05<i>/</i>25</span>
<svg class="jp" style="left:57px;top:134.5px" width="74" height="18" viewBox="0 -13 74 18"><text x="0" y="0" font-size="12" fill="#a0a000">単純移動平均</text></svg>
<span class="mono " style="left:143.24px;top:137.14px;font-size:12.77px;letter-spacing:0.62px;--ls:0.62px;transform:scaleX(0.7774);color:#a0a000;">5</span>
<span class="mono " style="left:165.24px;top:137.14px;font-size:12.77px;letter-spacing:0.62px;--ls:0.62px;transform:scaleX(0.7774);color:#5c9c9c;">10</span>
<span class="mono " style="left:191.24px;top:137.14px;font-size:12.77px;letter-spacing:0.62px;--ls:0.62px;transform:scaleX(0.7774);color:#a86c6c;">25</span>
<svg class="jp" style="left:57px;top:696.5px" width="86" height="18" viewBox="0 -13 86 18"><text x="0" y="0" font-size="12" fill="#5c9c9c">出来高移動平均</text></svg>
<svg class="jp" style="left:343px;top:202.5px" width="8" height="12" viewBox="0 0 8 12" shape-rendering="crispEdges"><path d="M5.5 1.5L1 6L5.5 10.5" fill="none" stroke="#ff0000" stroke-width="1"/></svg>
<span class="mono " style="left:349.24px;top:203.14px;font-size:12.77px;letter-spacing:0.62px;--ls:0.62px;transform:scaleX(0.7774);color:#ff0000;"><i class="hy"><b>-</b></i>728</span>
<svg class="jp" style="left:151px;top:659px" width="8" height="12" viewBox="0 0 8 12" shape-rendering="crispEdges"><path d="M5.5 1.5L1 6L5.5 10.5" fill="none" stroke="#0080ff" stroke-width="1"/></svg>
<span class="mono " style="left:158.24px;top:660.14px;font-size:12.77px;letter-spacing:0.62px;--ls:0.62px;transform:scaleX(0.7774);color:#0080ff;"><i class="hy"><b>-</b></i>625</span>
</body></html>
